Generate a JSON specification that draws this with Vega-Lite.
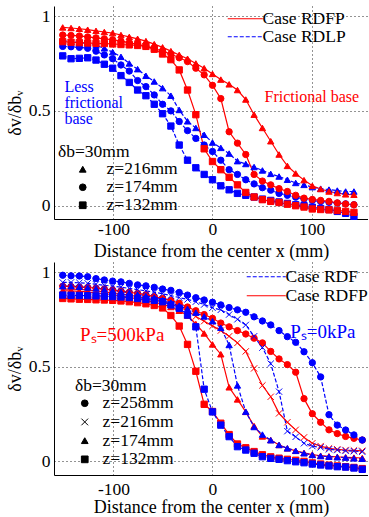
{
"$schema": "https://vega.github.io/schema/vega-lite/v6.json",
"padding": {"left": 6, "top": 6, "right": 0, "bottom": 0},
"spacing": 1,
"config": {
 "font": "Liberation Serif",
 "view": {"stroke": null},
 "axis": {"domainColor": "black", "domainWidth": 1, "grid": true, "gridColor": "black", "gridDash": [1, 3], "gridOpacity": 0.85, "gridWidth": 1, "ticks": false, "labelFontSize": 17.5, "labelColor": "black", "titleFontSize": 18, "titleFontWeight": "normal", "titleColor": "black", "labelFont": "Liberation Serif", "titleFont": "Liberation Serif"},
 "legend": {"labelFont": "Liberation Serif", "titleFont": "Liberation Serif", "labelFontSize": 17.5, "titleFontSize": 17.5, "titleFontWeight": "normal", "labelColor": "black", "titleColor": "black", "padding": 0, "rowPadding": 1, "labelLimit": 0}
},
"datasets": {
"top": [
{"c":"RDLP","z":216,"x":-151.2,"v":0.87},{"c":"RDLP","z":216,"x":-142.8,"v":0.865},{"c":"RDLP","z":216,"x":-134.4,"v":0.86},{"c":"RDLP","z":216,"x":-126,"v":0.855},{"c":"RDLP","z":216,"x":-117.6,"v":0.845},{"c":"RDLP","z":216,"x":-109.2,"v":0.83},{"c":"RDLP","z":216,"x":-100.8,"v":0.81},{"c":"RDLP","z":216,"x":-92.4,"v":0.785},{"c":"RDLP","z":216,"x":-84,"v":0.75},{"c":"RDLP","z":216,"x":-75.6,"v":0.72},{"c":"RDLP","z":216,"x":-67.2,"v":0.685},{"c":"RDLP","z":216,"x":-58.8,"v":0.655},{"c":"RDLP","z":216,"x":-50.4,"v":0.62},{"c":"RDLP","z":216,"x":-42,"v":0.58},{"c":"RDLP","z":216,"x":-33.6,"v":0.505},{"c":"RDLP","z":216,"x":-25.2,"v":0.445},{"c":"RDLP","z":216,"x":-16.8,"v":0.41},{"c":"RDLP","z":216,"x":-8.4,"v":0.374},{"c":"RDLP","z":216,"x":0,"v":0.333},{"c":"RDLP","z":216,"x":8.4,"v":0.305},{"c":"RDLP","z":216,"x":16.8,"v":0.275},{"c":"RDLP","z":216,"x":25.2,"v":0.235},{"c":"RDLP","z":216,"x":33.6,"v":0.22},{"c":"RDLP","z":216,"x":42,"v":0.204},{"c":"RDLP","z":216,"x":50.4,"v":0.186},{"c":"RDLP","z":216,"x":58.8,"v":0.168},{"c":"RDLP","z":216,"x":67.2,"v":0.154},{"c":"RDLP","z":216,"x":75.6,"v":0.137},{"c":"RDLP","z":216,"x":84,"v":0.12},{"c":"RDLP","z":216,"x":92.4,"v":0.11},{"c":"RDLP","z":216,"x":100.8,"v":0.098},{"c":"RDLP","z":216,"x":109.2,"v":0.09},{"c":"RDLP","z":216,"x":117.6,"v":0.085},{"c":"RDLP","z":216,"x":126,"v":0.08},{"c":"RDLP","z":216,"x":134.4,"v":0.075},{"c":"RDLP","z":216,"x":142.8,"v":0.075},
{"c":"RDLP","z":174,"x":-151.2,"v":0.84},{"c":"RDLP","z":174,"x":-142.8,"v":0.838},{"c":"RDLP","z":174,"x":-134.4,"v":0.835},{"c":"RDLP","z":174,"x":-126,"v":0.83},{"c":"RDLP","z":174,"x":-117.6,"v":0.815},{"c":"RDLP","z":174,"x":-109.2,"v":0.795},{"c":"RDLP","z":174,"x":-100.8,"v":0.775},{"c":"RDLP","z":174,"x":-92.4,"v":0.742},{"c":"RDLP","z":174,"x":-84,"v":0.71},{"c":"RDLP","z":174,"x":-75.6,"v":0.66},{"c":"RDLP","z":174,"x":-67.2,"v":0.628},{"c":"RDLP","z":174,"x":-58.8,"v":0.584},{"c":"RDLP","z":174,"x":-50.4,"v":0.535},{"c":"RDLP","z":174,"x":-42,"v":0.5},{"c":"RDLP","z":174,"x":-33.6,"v":0.444},{"c":"RDLP","z":174,"x":-25.2,"v":0.396},{"c":"RDLP","z":174,"x":-16.8,"v":0.355},{"c":"RDLP","z":174,"x":-8.4,"v":0.32},{"c":"RDLP","z":174,"x":0,"v":0.286},{"c":"RDLP","z":174,"x":8.4,"v":0.24},{"c":"RDLP","z":174,"x":16.8,"v":0.19},{"c":"RDLP","z":174,"x":25.2,"v":0.165},{"c":"RDLP","z":174,"x":33.6,"v":0.137},{"c":"RDLP","z":174,"x":42,"v":0.115},{"c":"RDLP","z":174,"x":50.4,"v":0.095},{"c":"RDLP","z":174,"x":58.8,"v":0.082},{"c":"RDLP","z":174,"x":67.2,"v":0.065},{"c":"RDLP","z":174,"x":75.6,"v":0.055},{"c":"RDLP","z":174,"x":84,"v":0.045},{"c":"RDLP","z":174,"x":92.4,"v":0.035},{"c":"RDLP","z":174,"x":100.8,"v":0.028},{"c":"RDLP","z":174,"x":109.2,"v":0.022},{"c":"RDLP","z":174,"x":117.6,"v":0.018},{"c":"RDLP","z":174,"x":126,"v":0.014},{"c":"RDLP","z":174,"x":134.4,"v":0.01},{"c":"RDLP","z":174,"x":142.8,"v":0.005},
{"c":"RDLP","z":132,"x":-151.2,"v":0.79},{"c":"RDLP","z":132,"x":-142.8,"v":0.775},{"c":"RDLP","z":132,"x":-134.4,"v":0.777},{"c":"RDLP","z":132,"x":-126,"v":0.78},{"c":"RDLP","z":132,"x":-117.6,"v":0.768},{"c":"RDLP","z":132,"x":-109.2,"v":0.746},{"c":"RDLP","z":132,"x":-100.8,"v":0.725},{"c":"RDLP","z":132,"x":-92.4,"v":0.686},{"c":"RDLP","z":132,"x":-84,"v":0.65},{"c":"RDLP","z":132,"x":-75.6,"v":0.61},{"c":"RDLP","z":132,"x":-67.2,"v":0.58},{"c":"RDLP","z":132,"x":-58.8,"v":0.535},{"c":"RDLP","z":132,"x":-50.4,"v":0.485},{"c":"RDLP","z":132,"x":-42,"v":0.42},{"c":"RDLP","z":132,"x":-33.6,"v":0.32},{"c":"RDLP","z":132,"x":-25.2,"v":0.24},{"c":"RDLP","z":132,"x":-16.8,"v":0.2},{"c":"RDLP","z":132,"x":-8.4,"v":0.165},{"c":"RDLP","z":132,"x":0,"v":0.137},{"c":"RDLP","z":132,"x":8.4,"v":0.105},{"c":"RDLP","z":132,"x":16.8,"v":0.084},{"c":"RDLP","z":132,"x":25.2,"v":0.065},{"c":"RDLP","z":132,"x":33.6,"v":0.055},{"c":"RDLP","z":132,"x":42,"v":0.046},{"c":"RDLP","z":132,"x":50.4,"v":0.035},{"c":"RDLP","z":132,"x":58.8,"v":0.028},{"c":"RDLP","z":132,"x":67.2,"v":0.02},{"c":"RDLP","z":132,"x":75.6,"v":0.012},{"c":"RDLP","z":132,"x":84,"v":0.005},{"c":"RDLP","z":132,"x":92.4,"v":0.0},{"c":"RDLP","z":132,"x":100.8,"v":-0.008},{"c":"RDLP","z":132,"x":109.2,"v":-0.015},{"c":"RDLP","z":132,"x":117.6,"v":-0.02},{"c":"RDLP","z":132,"x":126,"v":-0.03},{"c":"RDLP","z":132,"x":134.4,"v":-0.04},{"c":"RDLP","z":132,"x":142.8,"v":-0.056},
{"c":"RDFP","z":216,"x":-151.2,"v":0.94},{"c":"RDFP","z":216,"x":-142.8,"v":0.937},{"c":"RDFP","z":216,"x":-134.4,"v":0.933},{"c":"RDFP","z":216,"x":-126,"v":0.928},{"c":"RDFP","z":216,"x":-117.6,"v":0.922},{"c":"RDFP","z":216,"x":-109.2,"v":0.916},{"c":"RDFP","z":216,"x":-100.8,"v":0.91},{"c":"RDFP","z":216,"x":-92.4,"v":0.9},{"c":"RDFP","z":216,"x":-84,"v":0.89},{"c":"RDFP","z":216,"x":-75.6,"v":0.88},{"c":"RDFP","z":216,"x":-67.2,"v":0.868},{"c":"RDFP","z":216,"x":-58.8,"v":0.852},{"c":"RDFP","z":216,"x":-50.4,"v":0.835},{"c":"RDFP","z":216,"x":-42,"v":0.815},{"c":"RDFP","z":216,"x":-33.6,"v":0.795},{"c":"RDFP","z":216,"x":-25.2,"v":0.775},{"c":"RDFP","z":216,"x":-16.8,"v":0.75},{"c":"RDFP","z":216,"x":-8.4,"v":0.725},{"c":"RDFP","z":216,"x":0,"v":0.695},{"c":"RDFP","z":216,"x":8.4,"v":0.665},{"c":"RDFP","z":216,"x":16.8,"v":0.64},{"c":"RDFP","z":216,"x":25.2,"v":0.61},{"c":"RDFP","z":216,"x":33.6,"v":0.56},{"c":"RDFP","z":216,"x":42,"v":0.48},{"c":"RDFP","z":216,"x":50.4,"v":0.41},{"c":"RDFP","z":216,"x":58.8,"v":0.34},{"c":"RDFP","z":216,"x":67.2,"v":0.27},{"c":"RDFP","z":216,"x":75.6,"v":0.21},{"c":"RDFP","z":216,"x":84,"v":0.17},{"c":"RDFP","z":216,"x":92.4,"v":0.135},{"c":"RDFP","z":216,"x":100.8,"v":0.105},{"c":"RDFP","z":216,"x":109.2,"v":0.088},{"c":"RDFP","z":216,"x":117.6,"v":0.075},{"c":"RDFP","z":216,"x":126,"v":0.067},{"c":"RDFP","z":216,"x":134.4,"v":0.06},{"c":"RDFP","z":216,"x":142.8,"v":0.058},
{"c":"RDFP","z":174,"x":-151.2,"v":0.9},{"c":"RDFP","z":174,"x":-142.8,"v":0.898},{"c":"RDFP","z":174,"x":-134.4,"v":0.895},{"c":"RDFP","z":174,"x":-126,"v":0.89},{"c":"RDFP","z":174,"x":-117.6,"v":0.885},{"c":"RDFP","z":174,"x":-109.2,"v":0.88},{"c":"RDFP","z":174,"x":-100.8,"v":0.875},{"c":"RDFP","z":174,"x":-92.4,"v":0.868},{"c":"RDFP","z":174,"x":-84,"v":0.86},{"c":"RDFP","z":174,"x":-75.6,"v":0.85},{"c":"RDFP","z":174,"x":-67.2,"v":0.84},{"c":"RDFP","z":174,"x":-58.8,"v":0.828},{"c":"RDFP","z":174,"x":-50.4,"v":0.815},{"c":"RDFP","z":174,"x":-42,"v":0.8},{"c":"RDFP","z":174,"x":-33.6,"v":0.78},{"c":"RDFP","z":174,"x":-25.2,"v":0.76},{"c":"RDFP","z":174,"x":-16.8,"v":0.725},{"c":"RDFP","z":174,"x":-8.4,"v":0.69},{"c":"RDFP","z":174,"x":0,"v":0.635},{"c":"RDFP","z":174,"x":8.4,"v":0.565},{"c":"RDFP","z":174,"x":16.8,"v":0.39},{"c":"RDFP","z":174,"x":25.2,"v":0.33},{"c":"RDFP","z":174,"x":33.6,"v":0.27},{"c":"RDFP","z":174,"x":42,"v":0.165},{"c":"RDFP","z":174,"x":50.4,"v":0.13},{"c":"RDFP","z":174,"x":58.8,"v":0.11},{"c":"RDFP","z":174,"x":67.2,"v":0.09},{"c":"RDFP","z":174,"x":75.6,"v":0.075},{"c":"RDFP","z":174,"x":84,"v":0.055},{"c":"RDFP","z":174,"x":92.4,"v":0.04},{"c":"RDFP","z":174,"x":100.8,"v":0.033},{"c":"RDFP","z":174,"x":109.2,"v":0.028},{"c":"RDFP","z":174,"x":117.6,"v":0.023},{"c":"RDFP","z":174,"x":126,"v":0.015},{"c":"RDFP","z":174,"x":134.4,"v":0.009},{"c":"RDFP","z":174,"x":142.8,"v":0.005},
{"c":"RDFP","z":132,"x":-151.2,"v":0.865},{"c":"RDFP","z":132,"x":-142.8,"v":0.862},{"c":"RDFP","z":132,"x":-134.4,"v":0.86},{"c":"RDFP","z":132,"x":-126,"v":0.858},{"c":"RDFP","z":132,"x":-117.6,"v":0.856},{"c":"RDFP","z":132,"x":-109.2,"v":0.855},{"c":"RDFP","z":132,"x":-100.8,"v":0.853},{"c":"RDFP","z":132,"x":-92.4,"v":0.85},{"c":"RDFP","z":132,"x":-84,"v":0.848},{"c":"RDFP","z":132,"x":-75.6,"v":0.845},{"c":"RDFP","z":132,"x":-67.2,"v":0.84},{"c":"RDFP","z":132,"x":-58.8,"v":0.825},{"c":"RDFP","z":132,"x":-50.4,"v":0.8},{"c":"RDFP","z":132,"x":-42,"v":0.77},{"c":"RDFP","z":132,"x":-33.6,"v":0.716},{"c":"RDFP","z":132,"x":-25.2,"v":0.61},{"c":"RDFP","z":132,"x":-16.8,"v":0.48},{"c":"RDFP","z":132,"x":-8.4,"v":0.3},{"c":"RDFP","z":132,"x":0,"v":0.233},{"c":"RDFP","z":132,"x":8.4,"v":0.19},{"c":"RDFP","z":132,"x":16.8,"v":0.15},{"c":"RDFP","z":132,"x":25.2,"v":0.11},{"c":"RDFP","z":132,"x":33.6,"v":0.07},{"c":"RDFP","z":132,"x":42,"v":0.046},{"c":"RDFP","z":132,"x":50.4,"v":0.032},{"c":"RDFP","z":132,"x":58.8,"v":0.023},{"c":"RDFP","z":132,"x":67.2,"v":0.017},{"c":"RDFP","z":132,"x":75.6,"v":0.008},{"c":"RDFP","z":132,"x":84,"v":0.0},{"c":"RDFP","z":132,"x":92.4,"v":-0.007},{"c":"RDFP","z":132,"x":100.8,"v":-0.017},{"c":"RDFP","z":132,"x":109.2,"v":-0.02},{"c":"RDFP","z":132,"x":117.6,"v":-0.022},{"c":"RDFP","z":132,"x":126,"v":-0.025},{"c":"RDFP","z":132,"x":134.4,"v":-0.03},{"c":"RDFP","z":132,"x":142.8,"v":-0.035}
],
"bot": [
{"c":"RDFP","z":258,"x":-151.2,"v":0.925},{"c":"RDFP","z":258,"x":-142.8,"v":0.923},{"c":"RDFP","z":258,"x":-134.4,"v":0.92},{"c":"RDFP","z":258,"x":-126,"v":0.918},{"c":"RDFP","z":258,"x":-117.6,"v":0.915},{"c":"RDFP","z":258,"x":-109.2,"v":0.91},{"c":"RDFP","z":258,"x":-100.8,"v":0.905},{"c":"RDFP","z":258,"x":-92.4,"v":0.9},{"c":"RDFP","z":258,"x":-84,"v":0.893},{"c":"RDFP","z":258,"x":-75.6,"v":0.887},{"c":"RDFP","z":258,"x":-67.2,"v":0.88},{"c":"RDFP","z":258,"x":-58.8,"v":0.87},{"c":"RDFP","z":258,"x":-50.4,"v":0.86},{"c":"RDFP","z":258,"x":-42,"v":0.85},{"c":"RDFP","z":258,"x":-33.6,"v":0.835},{"c":"RDFP","z":258,"x":-25.2,"v":0.815},{"c":"RDFP","z":258,"x":-16.8,"v":0.795},{"c":"RDFP","z":258,"x":-8.4,"v":0.775},{"c":"RDFP","z":258,"x":0,"v":0.755},{"c":"RDFP","z":258,"x":8.4,"v":0.73},{"c":"RDFP","z":258,"x":16.8,"v":0.71},{"c":"RDFP","z":258,"x":25.2,"v":0.69},{"c":"RDFP","z":258,"x":33.6,"v":0.672},{"c":"RDFP","z":258,"x":42,"v":0.65},{"c":"RDFP","z":258,"x":50.4,"v":0.625},{"c":"RDFP","z":258,"x":58.8,"v":0.58},{"c":"RDFP","z":258,"x":67.2,"v":0.54},{"c":"RDFP","z":258,"x":75.6,"v":0.51},{"c":"RDFP","z":258,"x":84,"v":0.47},{"c":"RDFP","z":258,"x":92.4,"v":0.33},{"c":"RDFP","z":258,"x":100.8,"v":0.25},{"c":"RDFP","z":258,"x":109.2,"v":0.205},{"c":"RDFP","z":258,"x":117.6,"v":0.165},{"c":"RDFP","z":258,"x":126,"v":0.145},{"c":"RDFP","z":258,"x":134.4,"v":0.13},{"c":"RDFP","z":258,"x":142.8,"v":0.12},{"c":"RDFP","z":258,"x":151.2,"v":0.111},
{"c":"RDFP","z":216,"x":-151.2,"v":0.91},{"c":"RDFP","z":216,"x":-142.8,"v":0.91},{"c":"RDFP","z":216,"x":-134.4,"v":0.908},{"c":"RDFP","z":216,"x":-126,"v":0.905},{"c":"RDFP","z":216,"x":-117.6,"v":0.9},{"c":"RDFP","z":216,"x":-109.2,"v":0.895},{"c":"RDFP","z":216,"x":-100.8,"v":0.89},{"c":"RDFP","z":216,"x":-92.4,"v":0.885},{"c":"RDFP","z":216,"x":-84,"v":0.878},{"c":"RDFP","z":216,"x":-75.6,"v":0.87},{"c":"RDFP","z":216,"x":-67.2,"v":0.862},{"c":"RDFP","z":216,"x":-58.8,"v":0.853},{"c":"RDFP","z":216,"x":-50.4,"v":0.843},{"c":"RDFP","z":216,"x":-42,"v":0.83},{"c":"RDFP","z":216,"x":-33.6,"v":0.815},{"c":"RDFP","z":216,"x":-25.2,"v":0.795},{"c":"RDFP","z":216,"x":-16.8,"v":0.765},{"c":"RDFP","z":216,"x":-8.4,"v":0.74},{"c":"RDFP","z":216,"x":0,"v":0.715},{"c":"RDFP","z":216,"x":8.4,"v":0.69},{"c":"RDFP","z":216,"x":16.8,"v":0.66},{"c":"RDFP","z":216,"x":25.2,"v":0.625},{"c":"RDFP","z":216,"x":33.6,"v":0.58},{"c":"RDFP","z":216,"x":42,"v":0.49},{"c":"RDFP","z":216,"x":50.4,"v":0.4},{"c":"RDFP","z":216,"x":58.8,"v":0.34},{"c":"RDFP","z":216,"x":67.2,"v":0.252},{"c":"RDFP","z":216,"x":75.6,"v":0.205},{"c":"RDFP","z":216,"x":84,"v":0.165},{"c":"RDFP","z":216,"x":92.4,"v":0.125},{"c":"RDFP","z":216,"x":100.8,"v":0.094},{"c":"RDFP","z":216,"x":109.2,"v":0.079},{"c":"RDFP","z":216,"x":117.6,"v":0.067},{"c":"RDFP","z":216,"x":126,"v":0.062},{"c":"RDFP","z":216,"x":134.4,"v":0.058},{"c":"RDFP","z":216,"x":142.8,"v":0.056},{"c":"RDFP","z":216,"x":151.2,"v":0.054},
{"c":"RDFP","z":174,"x":-151.2,"v":0.9},{"c":"RDFP","z":174,"x":-142.8,"v":0.9},{"c":"RDFP","z":174,"x":-134.4,"v":0.898},{"c":"RDFP","z":174,"x":-126,"v":0.895},{"c":"RDFP","z":174,"x":-117.6,"v":0.89},{"c":"RDFP","z":174,"x":-109.2,"v":0.885},{"c":"RDFP","z":174,"x":-100.8,"v":0.88},{"c":"RDFP","z":174,"x":-92.4,"v":0.873},{"c":"RDFP","z":174,"x":-84,"v":0.866},{"c":"RDFP","z":174,"x":-75.6,"v":0.858},{"c":"RDFP","z":174,"x":-67.2,"v":0.85},{"c":"RDFP","z":174,"x":-58.8,"v":0.84},{"c":"RDFP","z":174,"x":-50.4,"v":0.83},{"c":"RDFP","z":174,"x":-42,"v":0.815},{"c":"RDFP","z":174,"x":-33.6,"v":0.795},{"c":"RDFP","z":174,"x":-25.2,"v":0.77},{"c":"RDFP","z":174,"x":-16.8,"v":0.725},{"c":"RDFP","z":174,"x":-8.4,"v":0.675},{"c":"RDFP","z":174,"x":0,"v":0.617},{"c":"RDFP","z":174,"x":8.4,"v":0.565},{"c":"RDFP","z":174,"x":16.8,"v":0.39},{"c":"RDFP","z":174,"x":25.2,"v":0.326},{"c":"RDFP","z":174,"x":33.6,"v":0.26},{"c":"RDFP","z":174,"x":42,"v":0.185},{"c":"RDFP","z":174,"x":50.4,"v":0.13},{"c":"RDFP","z":174,"x":58.8,"v":0.111},{"c":"RDFP","z":174,"x":67.2,"v":0.085},{"c":"RDFP","z":174,"x":75.6,"v":0.067},{"c":"RDFP","z":174,"x":84,"v":0.054},{"c":"RDFP","z":174,"x":92.4,"v":0.043},{"c":"RDFP","z":174,"x":100.8,"v":0.034},{"c":"RDFP","z":174,"x":109.2,"v":0.028},{"c":"RDFP","z":174,"x":117.6,"v":0.025},{"c":"RDFP","z":174,"x":126,"v":0.022},{"c":"RDFP","z":174,"x":134.4,"v":0.02},{"c":"RDFP","z":174,"x":142.8,"v":0.018},{"c":"RDFP","z":174,"x":151.2,"v":0.016},
{"c":"RDFP","z":132,"x":-151.2,"v":0.86},{"c":"RDFP","z":132,"x":-142.8,"v":0.858},{"c":"RDFP","z":132,"x":-134.4,"v":0.856},{"c":"RDFP","z":132,"x":-126,"v":0.855},{"c":"RDFP","z":132,"x":-117.6,"v":0.853},{"c":"RDFP","z":132,"x":-109.2,"v":0.852},{"c":"RDFP","z":132,"x":-100.8,"v":0.85},{"c":"RDFP","z":132,"x":-92.4,"v":0.847},{"c":"RDFP","z":132,"x":-84,"v":0.843},{"c":"RDFP","z":132,"x":-75.6,"v":0.838},{"c":"RDFP","z":132,"x":-67.2,"v":0.832},{"c":"RDFP","z":132,"x":-58.8,"v":0.823},{"c":"RDFP","z":132,"x":-50.4,"v":0.81},{"c":"RDFP","z":132,"x":-42,"v":0.77},{"c":"RDFP","z":132,"x":-33.6,"v":0.714},{"c":"RDFP","z":132,"x":-25.2,"v":0.617},{"c":"RDFP","z":132,"x":-16.8,"v":0.475},{"c":"RDFP","z":132,"x":-8.4,"v":0.3},{"c":"RDFP","z":132,"x":0,"v":0.262},{"c":"RDFP","z":132,"x":8.4,"v":0.2},{"c":"RDFP","z":132,"x":16.8,"v":0.14},{"c":"RDFP","z":132,"x":25.2,"v":0.09},{"c":"RDFP","z":132,"x":33.6,"v":0.07},{"c":"RDFP","z":132,"x":42,"v":0.05},{"c":"RDFP","z":132,"x":50.4,"v":0.033},{"c":"RDFP","z":132,"x":58.8,"v":0.022},{"c":"RDFP","z":132,"x":67.2,"v":0.015},{"c":"RDFP","z":132,"x":75.6,"v":0.009},{"c":"RDFP","z":132,"x":84,"v":0.004},{"c":"RDFP","z":132,"x":92.4,"v":-0.002},{"c":"RDFP","z":132,"x":100.8,"v":-0.01},{"c":"RDFP","z":132,"x":109.2,"v":-0.016},{"c":"RDFP","z":132,"x":117.6,"v":-0.022},{"c":"RDFP","z":132,"x":126,"v":-0.026},{"c":"RDFP","z":132,"x":134.4,"v":-0.03},{"c":"RDFP","z":132,"x":142.8,"v":-0.034},{"c":"RDFP","z":132,"x":151.2,"v":-0.04},
{"c":"RDF","z":258,"x":-151.2,"v":0.983},{"c":"RDF","z":258,"x":-142.8,"v":0.98},{"c":"RDF","z":258,"x":-134.4,"v":0.979},{"c":"RDF","z":258,"x":-126,"v":0.975},{"c":"RDF","z":258,"x":-117.6,"v":0.965},{"c":"RDF","z":258,"x":-109.2,"v":0.958},{"c":"RDF","z":258,"x":-100.8,"v":0.952},{"c":"RDF","z":258,"x":-92.4,"v":0.948},{"c":"RDF","z":258,"x":-84,"v":0.94},{"c":"RDF","z":258,"x":-75.6,"v":0.932},{"c":"RDF","z":258,"x":-67.2,"v":0.927},{"c":"RDF","z":258,"x":-58.8,"v":0.919},{"c":"RDF","z":258,"x":-50.4,"v":0.91},{"c":"RDF","z":258,"x":-42,"v":0.903},{"c":"RDF","z":258,"x":-33.6,"v":0.892},{"c":"RDF","z":258,"x":-25.2,"v":0.878},{"c":"RDF","z":258,"x":-16.8,"v":0.864},{"c":"RDF","z":258,"x":-8.4,"v":0.852},{"c":"RDF","z":258,"x":0,"v":0.84},{"c":"RDF","z":258,"x":8.4,"v":0.826},{"c":"RDF","z":258,"x":16.8,"v":0.812},{"c":"RDF","z":258,"x":25.2,"v":0.8},{"c":"RDF","z":258,"x":33.6,"v":0.787},{"c":"RDF","z":258,"x":42,"v":0.763},{"c":"RDF","z":258,"x":50.4,"v":0.741},{"c":"RDF","z":258,"x":58.8,"v":0.72},{"c":"RDF","z":258,"x":67.2,"v":0.69},{"c":"RDF","z":258,"x":75.6,"v":0.658},{"c":"RDF","z":258,"x":84,"v":0.628},{"c":"RDF","z":258,"x":92.4,"v":0.578},{"c":"RDF","z":258,"x":100.8,"v":0.52},{"c":"RDF","z":258,"x":109.2,"v":0.445},{"c":"RDF","z":258,"x":117.6,"v":0.245},{"c":"RDF","z":258,"x":126,"v":0.19},{"c":"RDF","z":258,"x":134.4,"v":0.164},{"c":"RDF","z":258,"x":142.8,"v":0.138},{"c":"RDF","z":258,"x":151.2,"v":0.111},
{"c":"RDF","z":216,"x":-151.2,"v":0.945},{"c":"RDF","z":216,"x":-142.8,"v":0.945},{"c":"RDF","z":216,"x":-134.4,"v":0.943},{"c":"RDF","z":216,"x":-126,"v":0.94},{"c":"RDF","z":216,"x":-117.6,"v":0.935},{"c":"RDF","z":216,"x":-109.2,"v":0.93},{"c":"RDF","z":216,"x":-100.8,"v":0.925},{"c":"RDF","z":216,"x":-92.4,"v":0.92},{"c":"RDF","z":216,"x":-84,"v":0.913},{"c":"RDF","z":216,"x":-75.6,"v":0.907},{"c":"RDF","z":216,"x":-67.2,"v":0.9},{"c":"RDF","z":216,"x":-58.8,"v":0.893},{"c":"RDF","z":216,"x":-50.4,"v":0.885},{"c":"RDF","z":216,"x":-42,"v":0.875},{"c":"RDF","z":216,"x":-33.6,"v":0.865},{"c":"RDF","z":216,"x":-25.2,"v":0.855},{"c":"RDF","z":216,"x":-16.8,"v":0.843},{"c":"RDF","z":216,"x":-8.4,"v":0.828},{"c":"RDF","z":216,"x":0,"v":0.811},{"c":"RDF","z":216,"x":8.4,"v":0.8},{"c":"RDF","z":216,"x":16.8,"v":0.775},{"c":"RDF","z":216,"x":25.2,"v":0.75},{"c":"RDF","z":216,"x":33.6,"v":0.72},{"c":"RDF","z":216,"x":42,"v":0.66},{"c":"RDF","z":216,"x":50.4,"v":0.6},{"c":"RDF","z":216,"x":58.8,"v":0.515},{"c":"RDF","z":216,"x":67.2,"v":0.367},{"c":"RDF","z":216,"x":75.6,"v":0.158},{"c":"RDF","z":216,"x":84,"v":0.128},{"c":"RDF","z":216,"x":92.4,"v":0.094},{"c":"RDF","z":216,"x":100.8,"v":0.079},{"c":"RDF","z":216,"x":109.2,"v":0.072},{"c":"RDF","z":216,"x":117.6,"v":0.062},{"c":"RDF","z":216,"x":126,"v":0.058},{"c":"RDF","z":216,"x":134.4,"v":0.054},{"c":"RDF","z":216,"x":142.8,"v":0.052},{"c":"RDF","z":216,"x":151.2,"v":0.049},
{"c":"RDF","z":174,"x":-151.2,"v":0.925},{"c":"RDF","z":174,"x":-142.8,"v":0.925},{"c":"RDF","z":174,"x":-134.4,"v":0.922},{"c":"RDF","z":174,"x":-126,"v":0.918},{"c":"RDF","z":174,"x":-117.6,"v":0.913},{"c":"RDF","z":174,"x":-109.2,"v":0.908},{"c":"RDF","z":174,"x":-100.8,"v":0.902},{"c":"RDF","z":174,"x":-92.4,"v":0.896},{"c":"RDF","z":174,"x":-84,"v":0.89},{"c":"RDF","z":174,"x":-75.6,"v":0.882},{"c":"RDF","z":174,"x":-67.2,"v":0.874},{"c":"RDF","z":174,"x":-58.8,"v":0.865},{"c":"RDF","z":174,"x":-50.4,"v":0.852},{"c":"RDF","z":174,"x":-42,"v":0.838},{"c":"RDF","z":174,"x":-33.6,"v":0.822},{"c":"RDF","z":174,"x":-25.2,"v":0.805},{"c":"RDF","z":174,"x":-16.8,"v":0.785},{"c":"RDF","z":174,"x":-8.4,"v":0.765},{"c":"RDF","z":174,"x":0,"v":0.74},{"c":"RDF","z":174,"x":8.4,"v":0.705},{"c":"RDF","z":174,"x":16.8,"v":0.614},{"c":"RDF","z":174,"x":25.2,"v":0.4},{"c":"RDF","z":174,"x":33.6,"v":0.261},{"c":"RDF","z":174,"x":42,"v":0.18},{"c":"RDF","z":174,"x":50.4,"v":0.14},{"c":"RDF","z":174,"x":58.8,"v":0.11},{"c":"RDF","z":174,"x":67.2,"v":0.085},{"c":"RDF","z":174,"x":75.6,"v":0.067},{"c":"RDF","z":174,"x":84,"v":0.054},{"c":"RDF","z":174,"x":92.4,"v":0.041},{"c":"RDF","z":174,"x":100.8,"v":0.032},{"c":"RDF","z":174,"x":109.2,"v":0.026},{"c":"RDF","z":174,"x":117.6,"v":0.023},{"c":"RDF","z":174,"x":126,"v":0.02},{"c":"RDF","z":174,"x":134.4,"v":0.018},{"c":"RDF","z":174,"x":142.8,"v":0.014},{"c":"RDF","z":174,"x":151.2,"v":0.012},
{"c":"RDF","z":132,"x":-151.2,"v":0.878},{"c":"RDF","z":132,"x":-142.8,"v":0.877},{"c":"RDF","z":132,"x":-134.4,"v":0.876},{"c":"RDF","z":132,"x":-126,"v":0.875},{"c":"RDF","z":132,"x":-117.6,"v":0.874},{"c":"RDF","z":132,"x":-109.2,"v":0.872},{"c":"RDF","z":132,"x":-100.8,"v":0.87},{"c":"RDF","z":132,"x":-92.4,"v":0.868},{"c":"RDF","z":132,"x":-84,"v":0.865},{"c":"RDF","z":132,"x":-75.6,"v":0.86},{"c":"RDF","z":132,"x":-67.2,"v":0.855},{"c":"RDF","z":132,"x":-58.8,"v":0.85},{"c":"RDF","z":132,"x":-50.4,"v":0.843},{"c":"RDF","z":132,"x":-42,"v":0.826},{"c":"RDF","z":132,"x":-33.6,"v":0.808},{"c":"RDF","z":132,"x":-25.2,"v":0.772},{"c":"RDF","z":132,"x":-16.8,"v":0.71},{"c":"RDF","z":132,"x":-8.4,"v":0.38},{"c":"RDF","z":132,"x":0,"v":0.26},{"c":"RDF","z":132,"x":8.4,"v":0.19},{"c":"RDF","z":132,"x":16.8,"v":0.129},{"c":"RDF","z":132,"x":25.2,"v":0.076},{"c":"RDF","z":132,"x":33.6,"v":0.058},{"c":"RDF","z":132,"x":42,"v":0.041},{"c":"RDF","z":132,"x":50.4,"v":0.023},{"c":"RDF","z":132,"x":58.8,"v":0.014},{"c":"RDF","z":132,"x":67.2,"v":0.009},{"c":"RDF","z":132,"x":75.6,"v":0.002},{"c":"RDF","z":132,"x":84,"v":-0.004},{"c":"RDF","z":132,"x":92.4,"v":-0.009},{"c":"RDF","z":132,"x":100.8,"v":-0.016},{"c":"RDF","z":132,"x":109.2,"v":-0.021},{"c":"RDF","z":132,"x":117.6,"v":-0.026},{"c":"RDF","z":132,"x":126,"v":-0.03},{"c":"RDF","z":132,"x":134.4,"v":-0.032},{"c":"RDF","z":132,"x":142.8,"v":-0.037},{"c":"RDF","z":132,"x":151.2,"v":-0.044}
]
},
"resolve": {"scale": {"color": "independent", "shape": "independent", "stroke": "independent", "x": "independent", "y": "independent"}, "legend": {"color": "independent", "shape": "independent"}},
"vconcat": [
{
 "width": 314, "height": 213,
 "data": {"name": "top"},
 "layer": [
  {"transform": [{"filter": "datum.c === 'RDLP'"}],
   "mark": {"type": "line", "strokeWidth": 1.2, "strokeDash": [4, 2]},
   "encoding": {
    "x": {"field": "x", "type": "quantitative", "scale": {"domain": [-160, 157], "nice": false, "zero": false}, "axis": {"values": [-100, 0, 100], "title": "Distance from the center x (mm)", "labelExpr": "'' + datum.value", "labelPadding": 1, "titlePadding": 5}},
    "y": {"field": "v", "type": "quantitative", "scale": {"domain": [-0.07, 1.053], "nice": false, "zero": false}, "axis": {"values": [0, 0.5, 1], "title": "δv/δbᵥ", "labelExpr": "'' + datum.value", "labelPadding": 4, "titlePadding": 4}},
    "color": {"field": "c", "type": "nominal", "scale": {"domain": ["RDFP", "RDLP"], "range": ["#ff0000", "#0000ff"]}, "legend": {"title": null, "orient": "none", "legendX": 191, "legendY": 4, "symbolType": "M-13,0H4.5", "symbolSize": 16, "symbolStrokeWidth": 1.2, "labelOffset": 0, "rowPadding": -3, "labelExpr": "'Case ' + datum.label", "encode": {"symbols": {"update": {"stroke": {"signal": "datum.value === 'RDFP' ? '#ff0000' : '#0000ff'"}, "strokeDash": {"signal": "datum.value === 'RDFP' ? [1, 0] : [4, 2]"}, "strokeWidth": {"value": 1.2}}}}}},
    "detail": {"field": "z", "type": "nominal"}
   }},
  {"transform": [{"filter": "datum.c === 'RDFP'"}],
   "mark": {"type": "line", "strokeWidth": 1.2},
   "encoding": {
    "x": {"field": "x", "type": "quantitative"},
    "y": {"field": "v", "type": "quantitative"},
    "color": {"field": "c", "type": "nominal"},
    "detail": {"field": "z", "type": "nominal"}
   }},
  {"mark": {"type": "point", "filled": true, "size": 40, "strokeWidth": 1, "opacity": 1},
   "encoding": {
    "x": {"field": "x", "type": "quantitative"},
    "y": {"field": "v", "type": "quantitative"},
    "color": {"field": "c", "type": "nominal"},
    "stroke": {"field": "c", "type": "nominal", "scale": {"domain": ["RDFP", "RDLP"], "range": ["#ff0000", "#0000ff"]}, "legend": null},
    "shape": {"field": "z", "type": "nominal", "scale": {"domain": [216, 174, 132], "range": ["triangle-up", "circle", "square"]}, "legend": {"title": "δb=30mm", "orient": "none", "legendX": 4, "legendY": 137, "titlePadding": 0, "rowPadding": -1, "symbolSize": 45, "symbolOffset": 16, "labelOffset": 15, "symbolFillColor": "black", "symbolStrokeColor": "black", "symbolStrokeWidth": 1, "labelExpr": "'z=' + datum.label + 'mm'", "encode": {"symbols": {"enter": {"fill": {"value": "black"}, "stroke": {"value": "black"}, "strokeWidth": {"value": 1}}, "update": {"fill": {"value": "black"}, "stroke": {"value": "black"}, "strokeWidth": {"value": 1}}}}}}
   }},
  {"data": {"values": [{}]},
   "mark": {"type": "text", "fill": "#ff0000", "fontSize": 16, "align": "left", "baseline": "middle"},
   "encoding": {"x": {"datum": 52.5}, "y": {"datum": 0.574}, "text": {"value": "Frictional base"}}},
  {"data": {"values": [{}]},
   "mark": {"type": "text", "fill": "#0000ff", "fontSize": 16, "align": "left", "baseline": "middle", "lineHeight": 16},
   "encoding": {"x": {"datum": -149.5}, "y": {"datum": 0.626}, "text": {"value": ["Less", "frictional", "base"]}}}
 ]
},
{
 "width": 314, "height": 213,
 "data": {"name": "bot"},
 "layer": [
  {"transform": [{"filter": "datum.c === 'RDFP'"}],
   "mark": {"type": "line", "strokeWidth": 1.2},
   "encoding": {
    "x": {"field": "x", "type": "quantitative", "scale": {"domain": [-160, 157], "nice": false, "zero": false}, "axis": {"values": [-100, 0, 100], "title": "Distance from the center x (mm)", "labelExpr": "'' + datum.value", "labelPadding": 5, "titlePadding": 1}},
    "y": {"field": "v", "type": "quantitative", "scale": {"domain": [-0.074, 1.053], "nice": false, "zero": false}, "axis": {"values": [0, 0.5, 1], "title": "δv/δbᵥ", "labelExpr": "'' + datum.value", "labelPadding": 4, "titlePadding": 4}},
    "color": {"field": "c", "type": "nominal", "scale": {"domain": ["RDF", "RDFP"], "range": ["#0000ff", "#ff0000"]}, "legend": {"title": null, "orient": "none", "legendX": 214, "legendY": 6, "symbolType": "M-15,0H4.5", "symbolSize": 16, "symbolStrokeWidth": 1.2, "labelOffset": 0, "rowPadding": 0, "labelExpr": "'Case ' + datum.label", "encode": {"symbols": {"update": {"stroke": {"signal": "datum.value === 'RDFP' ? '#ff0000' : '#0000ff'"}, "strokeDash": {"signal": "datum.value === 'RDFP' ? [1, 0] : [4, 2]"}, "strokeWidth": {"value": 1.2}}}}}},
    "detail": {"field": "z", "type": "nominal"}
   }},
  {"transform": [{"filter": "datum.c === 'RDF'"}],
   "mark": {"type": "line", "strokeWidth": 1.2, "strokeDash": [4, 2]},
   "encoding": {
    "x": {"field": "x", "type": "quantitative"},
    "y": {"field": "v", "type": "quantitative"},
    "color": {"field": "c", "type": "nominal"},
    "detail": {"field": "z", "type": "nominal"}
   }},
  {"mark": {"type": "point", "filled": true, "size": 40, "strokeWidth": 1, "opacity": 1},
   "encoding": {
    "x": {"field": "x", "type": "quantitative"},
    "y": {"field": "v", "type": "quantitative"},
    "color": {"field": "c", "type": "nominal"},
    "stroke": {"field": "c", "type": "nominal", "scale": {"domain": ["RDF", "RDFP"], "range": ["#0000ff", "#ff0000"]}, "legend": null},
    "shape": {"field": "z", "type": "nominal", "scale": {"domain": [258, 216, 174, 132], "range": ["circle", "M-1,-1L1,1M1,-1L-1,1", "triangle-up", "square"]}, "legend": {"title": "δb=30mm", "orient": "none", "legendX": 21, "legendY": 115, "titlePadding": 0, "rowPadding": -0.3, "symbolSize": 45, "symbolOffset": 1, "labelOffset": 9, "symbolFillColor": "black", "symbolStrokeColor": "black", "symbolStrokeWidth": 1, "labelExpr": "'z=' + datum.label + 'mm'", "encode": {"symbols": {"enter": {"fill": {"value": "black"}, "stroke": {"value": "black"}, "strokeWidth": {"value": 1}}, "update": {"fill": {"value": "black"}, "stroke": {"value": "black"}, "strokeWidth": {"value": 1}}}}}}
   }},
  {"data": {"values": [{}]},
   "mark": {"type": "text", "fill": "#ff0000", "fontSize": 19, "align": "left", "baseline": "middle"},
   "encoding": {"x": {"datum": -133.7}, "y": {"datum": 0.667}, "text": {"value": "Pₛ=500kPa"}}},
  {"data": {"values": [{}]},
   "mark": {"type": "text", "fill": "#0000ff", "fontSize": 19, "align": "left", "baseline": "middle"},
   "encoding": {"x": {"datum": 78.4}, "y": {"datum": 0.683}, "text": {"value": "Pₛ=0kPa"}}}
 ]
}
]
}
